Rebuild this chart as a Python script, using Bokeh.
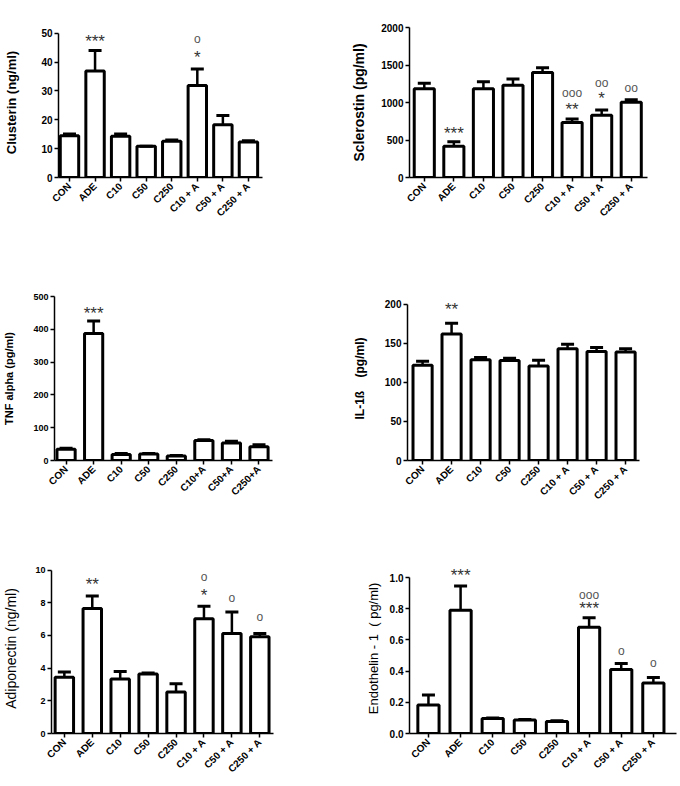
import math
from bokeh.plotting import figure
from bokeh.layouts import column, row
from bokeh.models import FixedTicker, Range1d, NumeralTickFormatter
from bokeh.embed import file_html
from bokeh.resources import INLINE
from bokeh.core.properties import value

# ---------------- data ----------------
groups = ["CON", "ADE", "C10", "C50", "C250", "C10 + A", "C50 + A", "C250 + A"]
groups_tnf = ["CON", "ADE", "C10", "C50", "C250", "C10+A", "C50+A", "C250+A"]

clusterin_mean = [14.5, 36.9, 14.3, 10.8, 12.6, 31.9, 18.3, 12.3]
clusterin_upper = [15.1, 44.0, 15.1, 10.8, 13.0, 37.6, 21.5, 12.7]
clusterin_yticks = [0, 10, 20, 30, 40, 50]
clusterin_star_x = [1, 5]
clusterin_star_txt = ["***", "*"]
clusterin_star_y = [48.6, 43.0]
clusterin_circ_x = [5]
clusterin_circ_txt = ["o"]
clusterin_circ_y = [47.9]

sclerostin_mean = [1182, 416, 1182, 1231, 1400, 735, 829, 1002]
sclerostin_upper = [1257, 477, 1276, 1313, 1463, 780, 900, 1036]
sclerostin_yticks = [0, 500, 1000, 1500, 2000]
sclerostin_star_x = [1, 5, 6]
sclerostin_star_txt = ["***", "**", "*"]
sclerostin_star_y = [630, 957, 1100]
sclerostin_circ_x = [5, 6, 7]
sclerostin_circ_txt = ["ooo", "oo", "oo"]
sclerostin_circ_y = [1133, 1257, 1200]

tnf_mean = [34, 387, 18, 20, 13.5, 60.6, 53, 42]
tnf_upper = [37.5, 425, 21, 21, 15, 63.5, 58.6, 48]
tnf_yticks = [0, 100, 200, 300, 400, 500]
tnf_star_x = [1]
tnf_star_txt = ["***"]
tnf_star_y = [461]

il1b_mean = [122, 162, 129, 128, 121, 143, 139.6, 138.8]
il1b_upper = [127, 175.6, 132, 131, 128.5, 149, 144.8, 143]
il1b_yticks = [0, 50, 100, 150, 200]
il1b_star_x = [1]
il1b_star_txt = ["**"]
il1b_star_y = [199]

adipo_mean = [3.44, 7.65, 3.34, 3.64, 2.54, 7.02, 6.12, 5.92]
adipo_upper = [3.76, 8.41, 3.80, 3.70, 3.04, 7.79, 7.44, 6.12]
adipo_yticks = [0, 2, 4, 6, 8, 10]
adipo_star_x = [1, 5]
adipo_star_txt = ["**", "*"]
adipo_star_y = [9.34, 8.65]
adipo_circ_x = [5, 6, 7]
adipo_circ_txt = ["o", "o", "o"]
adipo_circ_y = [9.56, 8.27, 7.12]

endo_mean = [0.182, 0.79, 0.096, 0.086, 0.077, 0.681, 0.411, 0.323]
endo_upper = [0.247, 0.946, 0.100, 0.090, 0.082, 0.742, 0.449, 0.359]
endo_yticks = [0, 0.2, 0.4, 0.6, 0.8, 1.0]
endo_star_x = [1, 5]
endo_star_txt = ["***", "***"]
endo_star_y = [1.033, 0.822]
endo_circ_x = [5, 6, 7]
endo_circ_txt = ["ooo", "o", "o"]
endo_circ_y = [0.889, 0.532, 0.449]

FONT = "Liberation Sans"
NB = "\u00a0"


def panel(cats, mean, upper, ylabel, yticks, ytop, geom, xr, bar_w,
          label_size, label_style, label_standoff, tick_size,
          star=None, circ=None, yfmt=None, star_shift_px=4):
    w, h, left, right, top, bottom = geom
    p = figure(width=w, height=h, output_backend="svg", toolbar_location=None,
               x_range=Range1d(xr[0], xr[1]), y_range=Range1d(0, ytop),
               min_border_left=left, min_border_right=right,
               min_border_top=top, min_border_bottom=bottom)
    p.outline_line_color = None
    p.xgrid.grid_line_color = None
    p.ygrid.grid_line_color = None
    p.background_fill_color = "white"
    p.border_fill_color = "white"

    xs = list(range(len(cats)))
    p.vbar(x=xs, top=mean, bottom=0, width=bar_w, fill_color="white",
           line_color="black", line_width=3)
    p.segment(x0=xs, y0=mean, x1=xs, y1=upper, line_color="black", line_width=2.5)
    p.scatter(x=xs, y=upper, marker="dash", size=13, line_color="black", line_width=3)

    scale = (h - top - bottom) / ytop  # px per data unit
    if star is not None:
        sx, st, sy = star
        p.text(x=sx, y=[v - star_shift_px / scale for v in sy], text=st,
               text_font=value(FONT), text_font_size="17px", text_color="#333333",
               text_align="center", text_baseline="middle")
    if circ is not None:
        cx, ct, cy = circ
        p.text(x=cx, y=cy, text=ct, text_font=value(FONT), text_font_size="12px",
               text_color="#555555", text_align="center", text_baseline="middle")

    # y axis
    ya = p.yaxis[0]
    ya.ticker = FixedTicker(ticks=yticks)
    ya.bounds = (0, yticks[-1])
    ya.axis_label = ylabel
    ya.axis_label_text_font = FONT
    ya.axis_label_text_font_size = f"{label_size}px"
    ya.axis_label_text_font_style = label_style
    ya.axis_label_text_color = "black"
    ya.axis_label_standoff = label_standoff
    ya.major_label_text_font = FONT
    ya.major_label_text_font_size = f"{tick_size}px"
    ya.major_label_text_font_style = "bold"
    ya.major_label_text_color = "black"
    ya.major_label_standoff = 2
    ya.axis_line_width = 1.5
    ya.major_tick_line_width = 1.5
    ya.major_tick_out = 4
    ya.major_tick_in = 0
    ya.minor_tick_line_color = None
    if yfmt:
        ya.formatter = NumeralTickFormatter(format=yfmt)

    # x axis
    xa = p.xaxis[0]
    xa.ticker = FixedTicker(ticks=xs)
    xa.major_label_overrides = {i: c for i, c in enumerate(cats)}
    xa.major_label_orientation = math.pi / 4
    xa.major_label_text_font = FONT
    xa.major_label_text_font_size = "10px"
    xa.major_label_text_font_style = "bold"
    xa.major_label_text_color = "black"
    xa.major_label_standoff = 3
    xa.axis_line_width = 1.5
    xa.major_tick_line_width = 1.5
    xa.major_tick_out = 4
    xa.major_tick_in = 0
    xa.minor_tick_line_color = None
    return p


p1 = panel(groups, clusterin_mean, clusterin_upper, "Clusterin (ng/ml)",
           clusterin_yticks, 52, (340, 262, 58, 78, 27, 85), (-0.43, 7.55), 0.72,
           13, "bold", 19, 10,
           star=(clusterin_star_x, clusterin_star_txt, clusterin_star_y),
           circ=(clusterin_circ_x, clusterin_circ_txt, clusterin_circ_y))

p2 = panel(groups, sclerostin_mean, sclerostin_upper, "Sclerostin (pg/ml)",
           sclerostin_yticks, 2000, (338, 262, 69, 31, 5, 79), (-0.5, 7.55), 0.68,
           14, "bold", 11, 10,
           star=(sclerostin_star_x, sclerostin_star_txt, sclerostin_star_y),
           circ=(sclerostin_circ_x, sclerostin_circ_txt, sclerostin_circ_y))

p3 = panel(groups_tnf, tnf_mean, tnf_upper, "TNF alpha (pg/ml)",
           tnf_yticks, 500, (340, 268, 47, 68, 27, 68), (-0.42, 7.49), 0.66,
           11, "bold", 15, 9,
           star=(tnf_star_x, tnf_star_txt, tnf_star_y))

p4 = panel(groups, il1b_mean, il1b_upper, "IL-1ß" + NB * 4 + "(pg/ml)",
           il1b_yticks, 210, (338, 268, 67, 39, 34, 70), (-0.52, 7.48), 0.66,
           12, "bold", 15, 10,
           star=(il1b_star_x, il1b_star_txt, il1b_star_y))

p5 = panel(groups, adipo_mean, adipo_upper, "Adiponectin (ng/ml)",
           adipo_yticks, 10.4, (340, 254, 47, 67, 33, 46), (-0.46, 7.49), 0.66,
           14, "normal", 13, 9,
           star=(adipo_star_x, adipo_star_txt, adipo_star_y),
           circ=(adipo_circ_x, adipo_circ_txt, adipo_circ_y))

p6 = panel(groups, endo_mean, endo_upper, "Endothelin - 1" + NB * 2 + "(" + NB + "pg/ml)",
           endo_yticks, 1.09, (338, 254, 69, 2, 13, 51), (-0.59, 7.72), 0.66,
           13, "normal", 6, 10,
           star=(endo_star_x, endo_star_txt, endo_star_y),
           circ=(endo_circ_x, endo_circ_txt, endo_circ_y), yfmt="0.0")

layout = column(row(p1, p2, spacing=0), row(p3, p4, spacing=0), row(p5, p6, spacing=0),
                spacing=0)

open("out.html", "w").write(file_html(layout, INLINE))
